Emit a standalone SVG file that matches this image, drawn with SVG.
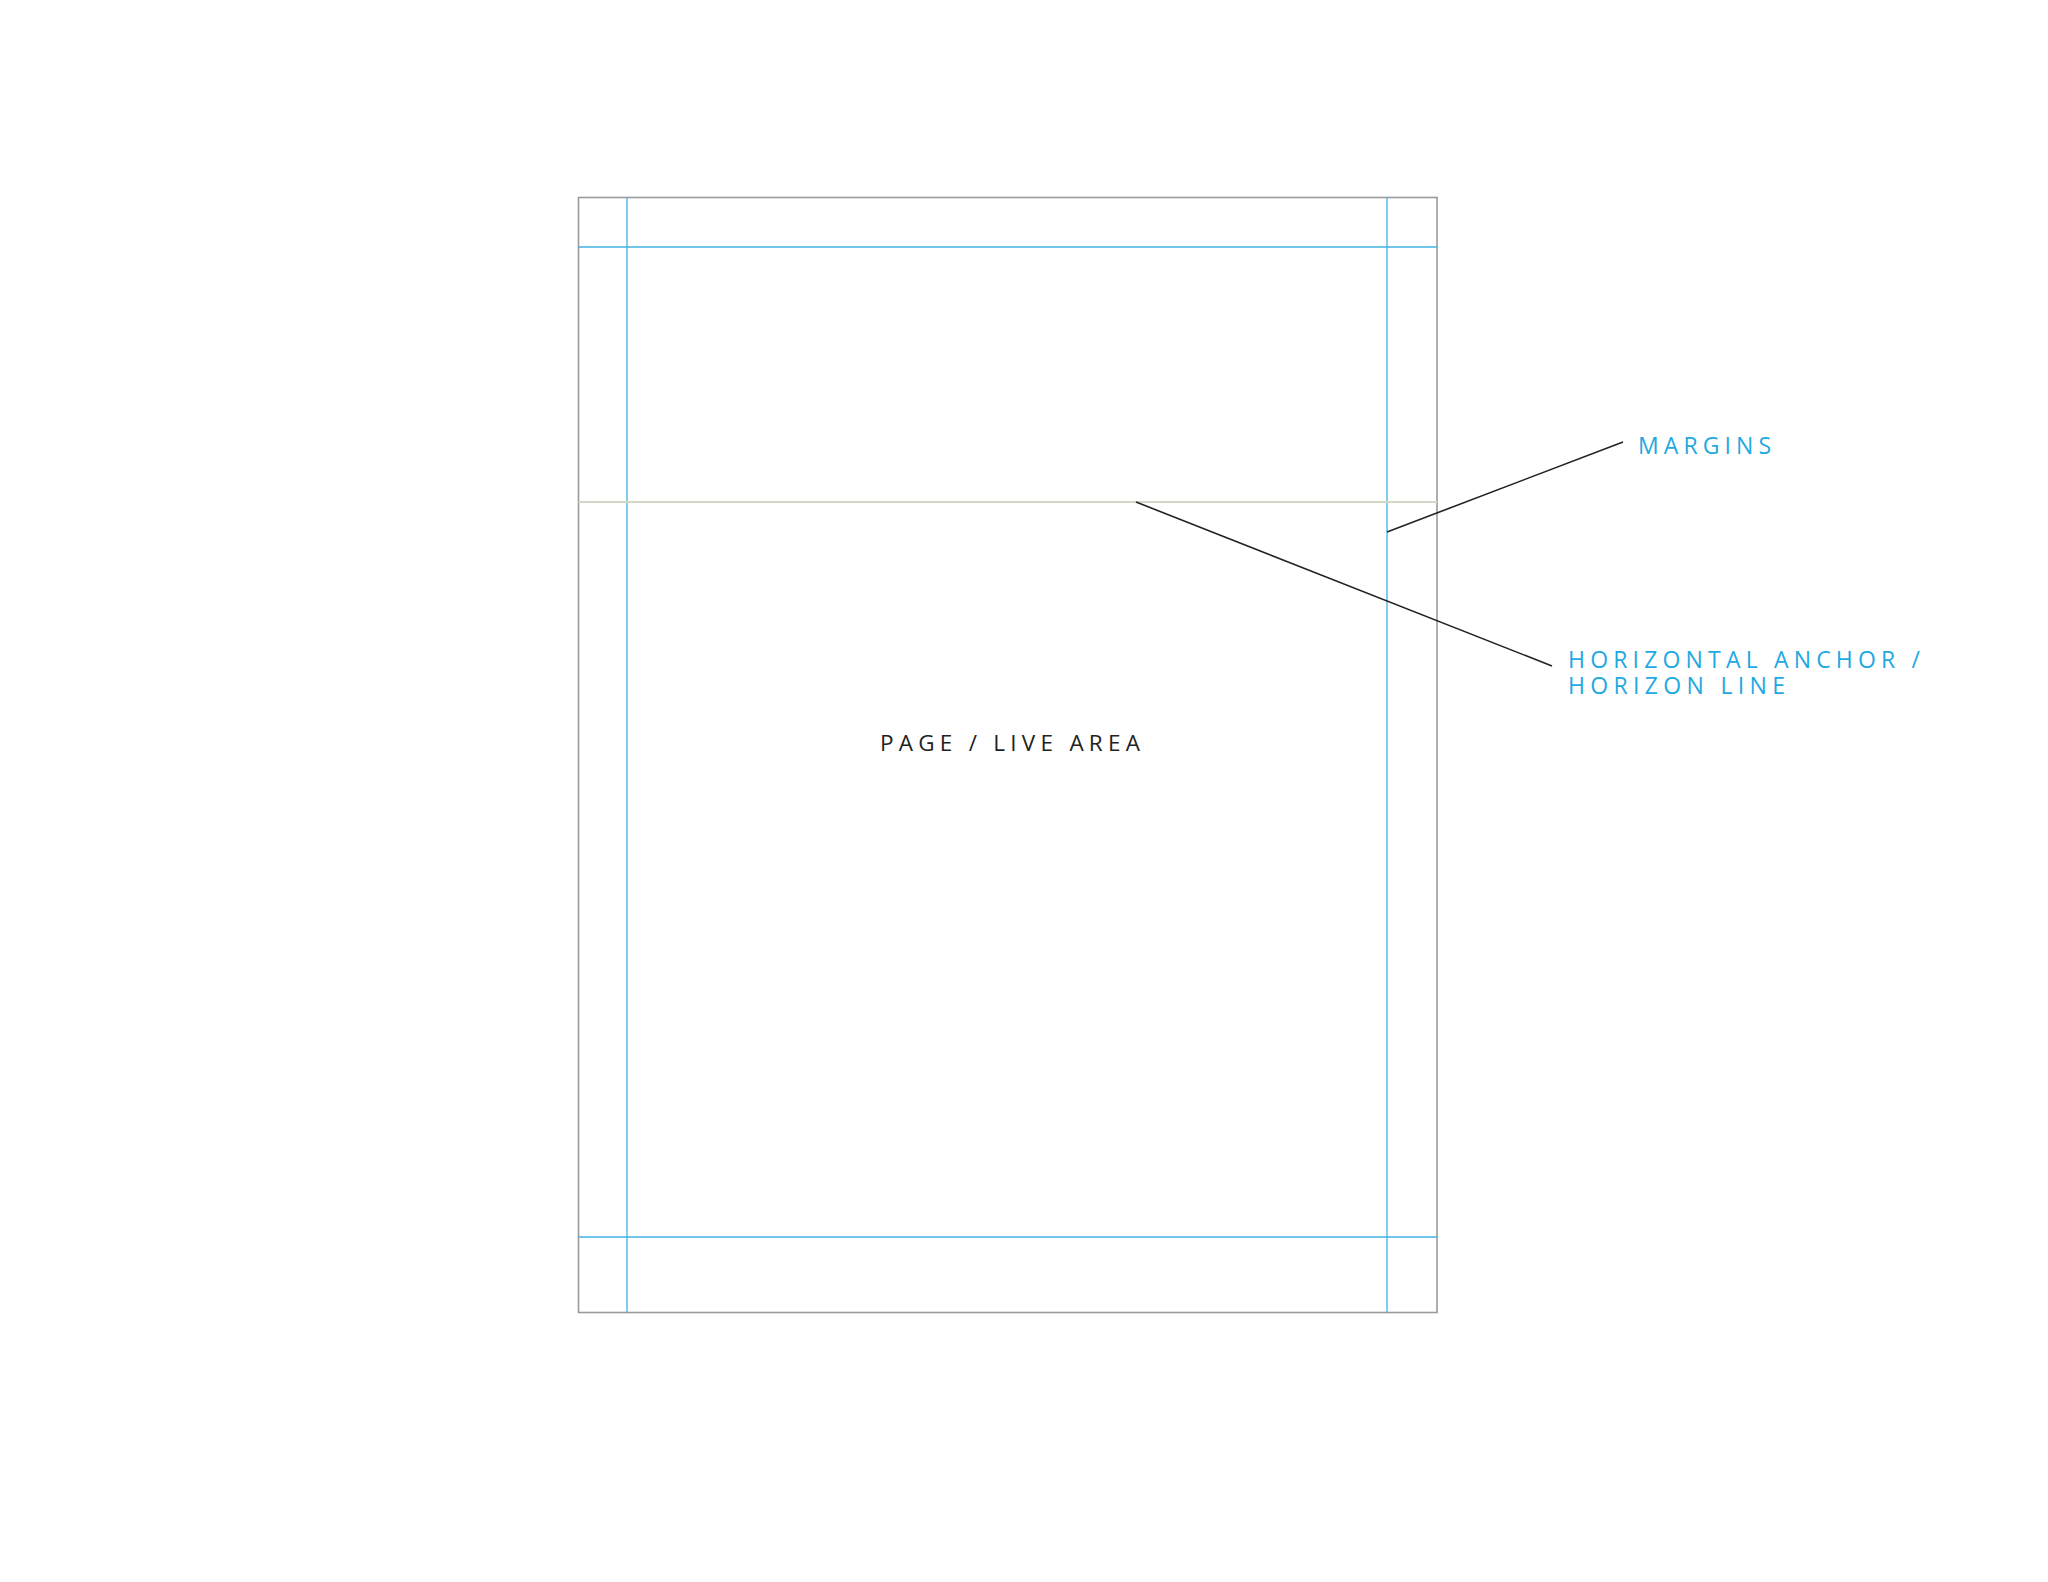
<svg xmlns="http://www.w3.org/2000/svg" width="2048" height="1582" viewBox="0 0 2048 1582">
<style>
.page{fill:#fff;stroke:#9a9a9a;stroke-width:1.6}
.guide{stroke:#3fb2e3;stroke-width:1.3;fill:none}
.horizon{stroke:#d6d6c4;stroke-width:2;fill:none}
.leader{stroke:#222;stroke-width:1.6;fill:none}
.lbl{font-family:"Open Sans","Liberation Sans",sans-serif;font-size:23px;fill:#1ea9e1}
.main{font-family:"Open Sans","Liberation Sans",sans-serif;font-size:22.5px;fill:#222}
</style>
<rect width="2048" height="1582" fill="#fff"/>
<g id="page">
<rect class="page" x="578.5" y="197.5" width="858.5" height="1115"/>
<line class="guide" x1="627" y1="197.5" x2="627" y2="1312.5"/>
<line class="guide" x1="1387" y1="197.5" x2="1387" y2="1312.5"/>
<line class="guide" x1="578.5" y1="247" x2="1437" y2="247"/>
<line class="guide" x1="578.5" y1="1237" x2="1437" y2="1237"/>
<line class="horizon" x1="578.5" y1="502" x2="1437" y2="502"/>
<text class="main" x="880" y="751" textLength="260" lengthAdjust="spacing">PAGE / LIVE AREA</text>
</g>
<g id="connectors">
<line class="leader" x1="1136" y1="502" x2="1552" y2="666"/>
<line class="leader" x1="1387" y1="532" x2="1623" y2="442"/>
</g>
<g id="margins-label">
<text class="lbl" x="1638" y="454" textLength="133" lengthAdjust="spacing">MARGINS</text>
</g>
<g id="horizon-label">
<text class="lbl" x="1568" y="668" textLength="352" lengthAdjust="spacing">HORIZONTAL ANCHOR /</text>
<text class="lbl" x="1568" y="694" textLength="217" lengthAdjust="spacing">HORIZON LINE</text>
</g>
</svg>
